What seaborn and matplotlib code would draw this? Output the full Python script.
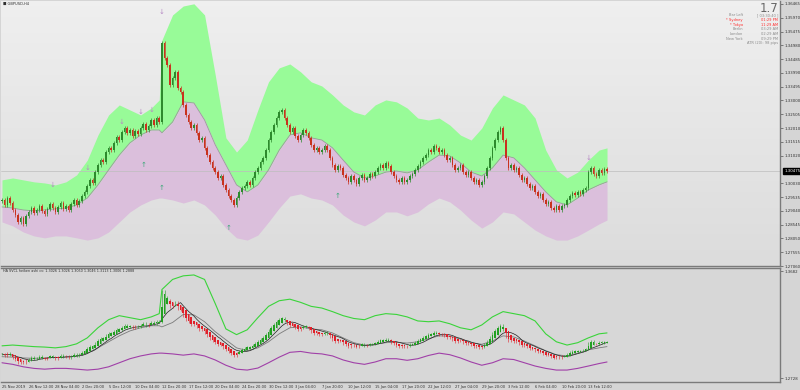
import numpy as np
import pandas as pd
import matplotlib
matplotlib.use("Agg")
import matplotlib.pyplot as plt
import seaborn as sns

# GBPUSD H4 closes, one per bar
closes = [
    1.2943, 1.2925, 1.2950, 1.2932, 1.2907, 1.2889, 1.2864, 1.2878, 1.2857, 1.2886,
    1.2900, 1.2914, 1.2896, 1.2907, 1.2922, 1.2904, 1.2893, 1.2911, 1.2929, 1.2914,
    1.2900, 1.2918, 1.2932, 1.2911, 1.2922, 1.2907, 1.2929, 1.2943, 1.2925, 1.2939,
    1.2957, 1.2972, 1.2993, 1.3015, 1.3004, 1.3043, 1.3069, 1.3086, 1.3079, 1.3115,
    1.3130, 1.3122, 1.3148, 1.3169, 1.3158, 1.3187, 1.3201, 1.3184, 1.3194, 1.3173,
    1.3191, 1.3180, 1.3201, 1.3216, 1.3194, 1.3209, 1.3230, 1.3212, 1.3237, 1.3223,
    1.3505, 1.3453, 1.3428, 1.3356, 1.3381, 1.3403, 1.3345, 1.3331, 1.3284, 1.3248,
    1.3223, 1.3201, 1.3212, 1.3184, 1.3158, 1.3166, 1.3130, 1.3104, 1.3079, 1.3058,
    1.3043, 1.3022, 1.3029, 1.2997, 1.2979, 1.2957, 1.2943, 1.2925, 1.2950, 1.2972,
    1.2986, 1.2993, 1.3008, 1.2997, 1.3022, 1.3043, 1.3058, 1.3079, 1.3094, 1.3122,
    1.3158, 1.3187, 1.3212, 1.3237, 1.3259, 1.3266, 1.3237, 1.3212, 1.3187, 1.3201,
    1.3173, 1.3158, 1.3176, 1.3194, 1.3184, 1.3166, 1.3141, 1.3122, 1.3130, 1.3115,
    1.3122, 1.3137, 1.3122, 1.3094, 1.3069, 1.3051, 1.3065, 1.3058, 1.3033, 1.3022,
    1.3008, 1.3029, 1.3015, 1.3000, 1.3022, 1.3033, 1.3015, 1.3022, 1.3036, 1.3029,
    1.3043, 1.3058, 1.3069, 1.3058, 1.3076, 1.3065, 1.3043, 1.3029, 1.3015, 1.3008,
    1.3022, 1.3008, 1.3015, 1.3029, 1.3036, 1.3051, 1.3065, 1.3079, 1.3094, 1.3104,
    1.3122, 1.3115, 1.3137, 1.3130, 1.3115, 1.3122, 1.3104, 1.3086, 1.3094, 1.3069,
    1.3051, 1.3058, 1.3069, 1.3043, 1.3033, 1.3043, 1.3022, 1.3008, 1.3015, 1.2997,
    1.3008, 1.3029, 1.3058, 1.3094, 1.3130, 1.3158, 1.3187, 1.3201, 1.3158, 1.3094,
    1.3058, 1.3069, 1.3051, 1.3058, 1.3033, 1.3015, 1.3022, 1.3000, 1.2986, 1.2993,
    1.2972, 1.2957, 1.2965, 1.2943, 1.2929, 1.2936, 1.2914, 1.2907, 1.2922, 1.2907,
    1.2922, 1.2925, 1.2943, 1.2957, 1.2968, 1.2961, 1.2972, 1.2965, 1.2979, 1.2986,
    1.3043, 1.3058, 1.3036, 1.3029, 1.3051, 1.3040, 1.3054, 1.30475,
]
first_open = 1.2940

# envelope bands, sampled at these bars
band_bars = [0, 4, 8, 12, 16, 20, 24, 28, 32, 36, 40, 44, 48, 52, 56, 59, 60, 64, 68, 72,
             76, 80, 84, 88, 92, 96, 100, 104, 108, 112, 116, 120, 124, 128, 132, 136, 140,
             144, 148, 152, 156, 160, 164, 168, 172, 176, 180, 184, 188, 192, 196, 200, 204,
             208, 212, 216, 220, 224, 227]
band_upper = [1.3015, 1.3022, 1.3015, 1.3008, 1.3004, 1.2997, 1.3008, 1.3033, 1.3086, 1.3176,
              1.3248, 1.3284, 1.3266, 1.3248, 1.3273, 1.3302, 1.3517, 1.3607, 1.3639, 1.3647,
              1.3607, 1.3392, 1.3166, 1.3115, 1.3158, 1.3266, 1.3367, 1.3417, 1.3431, 1.3403,
              1.3367, 1.3352, 1.3320, 1.3284, 1.3259, 1.3248, 1.3284, 1.3302, 1.3295, 1.3273,
              1.3237, 1.3230, 1.3237, 1.3212, 1.3176, 1.3158, 1.3201, 1.3273, 1.3320, 1.3302,
              1.3284, 1.3237, 1.3122, 1.3051, 1.3022, 1.3043, 1.3086, 1.3122, 1.3130]
band_mid = [1.2918, 1.2914, 1.2907, 1.2904, 1.2907, 1.2911, 1.2914, 1.2925, 1.2950, 1.2997,
            1.3051, 1.3104, 1.3148, 1.3176, 1.3194, 1.3194, 1.3184, 1.3223, 1.3295, 1.3291,
            1.3230, 1.3141, 1.3069, 1.2997, 1.2972, 1.2997, 1.3051, 1.3122, 1.3176, 1.3184,
            1.3166, 1.3158, 1.3130, 1.3086, 1.3043, 1.3022, 1.3029, 1.3043, 1.3047, 1.3040,
            1.3051, 1.3079, 1.3104, 1.3101, 1.3076, 1.3043, 1.3029, 1.3058, 1.3104, 1.3094,
            1.3058, 1.3015, 1.2972, 1.2936, 1.2925, 1.2950, 1.2979, 1.2997, 1.3008]
band_lower = [1.2864, 1.2850, 1.2828, 1.2814, 1.2807, 1.2814, 1.2814, 1.2807, 1.2799, 1.2807,
              1.2828, 1.2864, 1.2900, 1.2925, 1.2943, 1.2950, 1.2950, 1.2943, 1.2932, 1.2943,
              1.2925, 1.2889, 1.2842, 1.2807, 1.2799, 1.2817, 1.2864, 1.2914, 1.2957, 1.2965,
              1.2950, 1.2943, 1.2925, 1.2889, 1.2864, 1.2850, 1.2871, 1.2900, 1.2900, 1.2886,
              1.2900, 1.2929, 1.2950, 1.2936, 1.2907, 1.2871, 1.2842, 1.2864, 1.2900, 1.2893,
              1.2864, 1.2835, 1.2814, 1.2799, 1.2799, 1.2814, 1.2835, 1.2857, 1.2871]

# signal arrows
down_bars = [19, 32, 45, 52, 56, 60, 220]
down_prices = [1.2997, 1.3058, 1.3223, 1.3259, 1.3266, 1.3618, 1.3094]
up_bars = [53, 60, 85, 126]
up_prices = [1.3069, 1.2986, 1.2842, 1.2957]

time_bars = [0, 10, 20, 30, 40, 50, 60, 70, 80, 90, 100, 110, 120, 130, 140, 150, 160,
             170, 180, 190, 200, 210, 220]
time_labels = ["25 Nov 2019", "26 Nov 12:00", "28 Nov 04:00", "2 Dec 20:00", "5 Dec 12:00",
               "10 Dec 04:00", "12 Dec 20:00", "17 Dec 12:00", "20 Dec 04:00", "24 Dec 20:00",
               "30 Dec 12:00", "3 Jan 04:00", "7 Jan 20:00", "10 Jan 12:00", "15 Jan 04:00",
               "17 Jan 20:00", "22 Jan 12:00", "27 Jan 04:00", "29 Jan 20:00", "3 Feb 12:00",
               "6 Feb 04:00", "10 Feb 20:00", "13 Feb 12:00"]
price_ticks = [1.27060, 1.27555, 1.28050, 1.28545, 1.29040, 1.29535, 1.30030, 1.31020,
               1.31515, 1.32010, 1.32505, 1.33000, 1.33495, 1.33990, 1.34485, 1.34980,
               1.35475, 1.35970, 1.36465]
sub_ticks = [1.2728, 1.3682]
current_price = 1.30475
ha_caption = "HA SVCL heiken ashi cv: 1.3026 1.3026 1.3050 1.3046 1.3113 1.3006 1.2888"

info_names = ["Bar Left", "* Sydney", "* Tokyo", "Berlin", "London", "New York"]
info_values = ["[ 03:30:40 ]", "01:29 PM", "11:29 AM", "03:29 AM", "02:29 AM", "09:29 PM"]
info_red = [False, True, True, False, False, False]

# ---- derived OHLC ----
df = pd.DataFrame({"close": closes})
df["open"] = df["close"].shift(1).fillna(first_open)
wick = 0.0008
df["high"] = df[["open", "close"]].max(axis=1) + wick
df["low"] = df[["open", "close"]].min(axis=1) - wick
df["bar"] = np.arange(len(df))

ha_close = (df["open"] + df["high"] + df["low"] + df["close"]) / 4
ha_open = np.zeros(len(df))
ha_open[0] = (df["open"][0] + df["close"][0]) / 2
for i in range(1, len(df)):
    ha_open[i] = (ha_open[i - 1] + ha_close[i - 1]) / 2
ha = pd.DataFrame({"open": ha_open, "close": ha_close})
ha["high"] = np.maximum(df["high"], ha[["open", "close"]].max(axis=1))
ha["low"] = np.minimum(df["low"], ha[["open", "close"]].min(axis=1))
signal = df["close"].rolling(8, min_periods=1).mean()

sns.set_style("white")
plt.rcParams["font.family"] = ["DejaVu Sans"]

W, H = 800, 390
fig = plt.figure(figsize=(8, 3.9), dpi=100, facecolor="#d5d5d5")


def px(x0, y0, x1, y1):
    return [x0 / W, 1 - y1 / H, (x1 - x0) / W, (y1 - y0) / H]


ax = fig.add_axes(px(1, 1, 780, 266))
ax2 = fig.add_axes(px(1, 268, 780, 381.5))
xlim = (-0.375, 291.9)

# upper panel background gradient
ax.imshow(np.linspace(0, 1, 50).reshape(-1, 1), cmap=matplotlib.colors.LinearSegmentedColormap.from_list(
    "bg", ["#efefef", "#dcdcdc"]), aspect="auto", extent=(xlim[0], xlim[1], 1.2706, 1.3657),
    origin="upper", zorder=0)

ax.fill_between(band_bars, band_mid, band_upper, color="#98fb98", lw=0, zorder=1)
ax.fill_between(band_bars, band_lower, band_mid, color="#dbbfdc", lw=0, zorder=1)
sns.lineplot(x=band_bars, y=band_mid, ax=ax, color="#9a9a9a", lw=0.6, zorder=2)
ax.axhline(current_price, color="#bdbdbd", lw=0.5, zorder=1.5)

bull = df["close"] >= df["open"]
ccol = np.where(bull, "#2d8a2d", "#c8321e")
ax.vlines(df["bar"], df["low"], df["high"], colors=ccol, lw=0.5, zorder=3)
ax.bar(df["bar"], np.maximum((df["close"] - df["open"]).abs(), 0.0001),
       bottom=df[["open", "close"]].min(axis=1), width=0.6, color=ccol, lw=0, zorder=3)

for b, p in zip(down_bars, down_prices):
    ax.text(b, p, "\u2193", color="#b689c4", fontsize=5, ha="center", va="center", zorder=4)
for b, p in zip(up_bars, up_prices):
    ax.text(b, p, "\u2191", color="#3aa878", fontsize=5, ha="center", va="center", zorder=4)

ax.set_xlim(*xlim)
ax.set_ylim(1.2706, 1.3657)
ax.yaxis.tick_right()
ax.set_yticks(price_ticks)
ax.set_yticklabels([f"{v:.5f}" for v in price_ticks])
ax.set_xticks([])
ax.tick_params(axis="y", labelsize=2.8, length=2, width=0.4, pad=1, colors="#303030")
ax.annotate(f"{current_price:.5f}", xy=(1, current_price), xycoords=("axes fraction", "data"),
            xytext=(3, 0), textcoords="offset points", fontsize=2.8, color="white", va="center",
            ha="left", bbox=dict(boxstyle="square,pad=0.25", fc="black", ec="black"))

# lower panel
ax2.set_facecolor("#d7d7d7")
sns.lineplot(x=band_bars, y=band_upper, ax=ax2, color="#3ad43a", lw=0.8)
sns.lineplot(x=band_bars, y=band_lower, ax=ax2, color="#a040a8", lw=0.8)
sns.lineplot(x=band_bars, y=band_mid, ax=ax2, color="#7a7a7a", lw=0.6)
sns.lineplot(x=df["bar"], y=signal, ax=ax2, color="#202020", lw=0.5)
hbull = ha["close"] >= ha["open"]
hcol = np.where(hbull, "#22a022", "#e0202a")
ax2.vlines(df["bar"], ha["low"], ha["high"], colors=hcol, lw=0.4, zorder=3)
ax2.bar(df["bar"], np.maximum((ha["close"] - ha["open"]).abs(), 0.0001),
        bottom=ha[["open", "close"]].min(axis=1), width=0.6, color=hcol, lw=0, zorder=3)
ax2.set_xlim(*xlim)
ax2.set_ylim(1.2697, 1.3709)
ax2.yaxis.tick_right()
ax2.set_yticks(sub_ticks)
ax2.set_yticklabels([f"{v:.4f}" for v in sub_ticks])
ax2.set_xticks(time_bars)
ax2.set_xticklabels(time_labels, ha="left")
ax2.tick_params(axis="y", labelsize=2.8, length=2, width=0.4, pad=1, colors="#303030")
ax2.tick_params(axis="x", labelsize=2.6, length=2, width=0.4, pad=0.8, colors="#303030")
for a in (ax, ax2):
    a.set_xlabel("")
    a.set_ylabel("")
    for s in a.spines.values():
        s.set_color("#7a7a7a")
        s.set_linewidth(1.0)
    a.spines["left"].set_visible(False)
ax.spines["top"].set_visible(False)

# captions
fig.text(3 / W, 1 - 4 / H, "\u25a0 GBPUSD,H4", fontsize=2.6, color="#303030", va="center")
fig.text(3 / W, 1 - 271 / H, ha_caption, fontsize=2.4, color="#303030", va="center")
fig.text(778 / W, 1 - 8 / H, "1.7", fontsize=8.5, color="#666666", ha="right", va="center")
rows_y = [15, 20, 25, 29.5, 34, 38.5]
for y, name, val, red in zip(rows_y, info_names, info_values, info_red):
    c = "#ff2a2a" if red else "#8a8a8a"
    fig.text(743 / W, 1 - y / H, name, fontsize=2.6, color=c, ha="right", va="center")
    fig.text(778 / W, 1 - y / H, val, fontsize=2.6, color=c, ha="right", va="center")
fig.text(778 / W, 1 - 43 / H, "ATR (20): 98 pips", fontsize=2.6, color="#8a8a8a",
         ha="right", va="center")

fig.savefig("out.png", dpi=100, facecolor=fig.get_facecolor())
